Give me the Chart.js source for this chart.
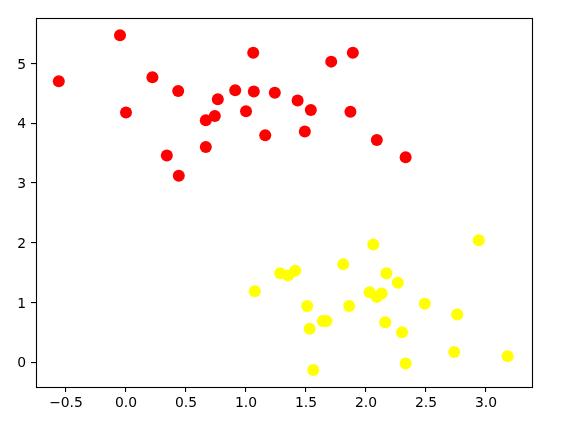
<!DOCTYPE html>
<html>
<head>
<meta charset="utf-8">
<script src="https://cdn.jsdelivr.net/npm/chart.js@4/dist/chart.umd.min.js"></script>
<style>
html, body { margin: 0; padding: 0; background: #fff; }
</style>
</head>
<body>
<canvas id="canvasScatter" width="571" height="422"></canvas>
<script>
"use strict";
// cluster 1 (red)
var redX = [-0.56, -0.05, 0.22, 0.00, 0.435, 0.34, 0.44, 0.665, 0.74, 0.765, 0.665, 0.91, 1.00,
    1.06, 1.065, 1.16, 1.24, 1.71, 1.89, 1.43, 1.54, 1.49, 1.87, 2.09, 2.33];
var redY = [4.70, 5.47, 4.77, 4.18, 4.54, 3.46, 3.12, 4.05, 4.12, 4.40, 3.60, 4.55, 4.20,
    5.18, 4.53, 3.80, 4.51, 5.03, 5.18, 4.38, 4.22, 3.86, 4.19, 3.72, 3.43];
// cluster 2 (yellow)
var yellowX = [1.073, 1.285, 1.35, 1.41, 1.51, 1.53, 1.56, 1.64, 1.67, 1.81, 1.86, 2.06, 2.03,
    2.09, 2.13, 2.17, 2.16, 2.265, 2.30, 2.33, 2.49, 2.735, 2.76, 2.94, 3.18];
var yellowY = [1.19, 1.49, 1.45, 1.53, 0.94, 0.56, -0.13, 0.69, 0.69, 1.64, 0.94, 1.97, 1.17,
    1.09, 1.15, 1.49, 0.67, 1.33, 0.50, -0.02, 0.98, 0.17, 0.80, 2.04, 0.10];

var xTicks = [-0.5, 0.0, 0.5, 1.0, 1.5, 2.0, 2.5, 3.0];
var yTicks = [0, 1, 2, 3, 4, 5];
var xRange = [-0.75, 3.383];
var yRange = [-0.414, 5.76];

function toPoints(xs, ys) {
    var pts = [];
    for (var i = 0; i < xs.length; i++) {
        pts.push({ x: xs[i], y: ys[i] });
    }
    return pts;
}

function minusSign(s) {
    return s.replace('-', '\u2212');
}

var framePlugin = {
    id: 'frame',
    afterDraw: function (chart) {
        var a = chart.chartArea;
        var ctx = chart.ctx;
        ctx.save();
        ctx.strokeStyle = '#000';
        ctx.lineWidth = 1.1;
        ctx.strokeRect(Math.round(a.left) + 0.5, Math.round(a.top) + 0.5,
            Math.round(a.right - a.left), Math.round(a.bottom - a.top));
        ctx.restore();
    }
};

var tickFont = { family: "'DejaVu Sans', sans-serif", size: 13.9 };

new Chart(document.getElementById('canvasScatter'), {
    type: 'scatter',
    data: {
        datasets: [{
            data: toPoints(redX, redY),
            backgroundColor: '#ff0000',
            borderWidth: 0,
            pointRadius: 6,
            pointHoverRadius: 6
        }, {
            data: toPoints(yellowX, yellowY),
            backgroundColor: '#ffff00',
            borderWidth: 0,
            pointRadius: 6,
            pointHoverRadius: 6
        }]
    },
    options: {
        responsive: false,
        animation: false,
        events: [],
        layout: { padding: { top: 18, right: 39, left: 0, bottom: 0 } },
        plugins: {
            legend: { display: false },
            tooltip: { enabled: false }
        },
        scales: {
            x: {
                type: 'linear',
                min: xRange[0],
                max: xRange[1],
                afterBuildTicks: function (scale) {
                    scale.ticks = xTicks.map(function (v) { return { value: v }; });
                },
                afterFit: function (scale) { scale.height = 35; },
                border: { display: false },
                grid: { drawOnChartArea: false, drawTicks: true, tickLength: 5, color: '#000', lineWidth: 1.1 },
                ticks: {
                    color: '#000',
                    font: tickFont,
                    padding: 3,
                    maxRotation: 0,
                    autoSkip: false,
                    callback: function (v) { return minusSign(Number(v).toFixed(1)); }
                }
            },
            y: {
                type: 'linear',
                min: yRange[0],
                max: yRange[1],
                afterBuildTicks: function (scale) {
                    scale.ticks = yTicks.map(function (v) { return { value: v }; });
                },
                afterFit: function (scale) { scale.width = 36; },
                border: { display: false },
                grid: { drawOnChartArea: false, drawTicks: true, tickLength: 5, color: '#000', lineWidth: 1.1 },
                ticks: {
                    color: '#000',
                    font: tickFont,
                    padding: 5,
                    labelOffset: 1.5,
                    autoSkip: false,
                    callback: function (v) { return minusSign(String(v)); }
                }
            }
        }
    },
    plugins: [framePlugin]
});
</script>
</body>
</html>
